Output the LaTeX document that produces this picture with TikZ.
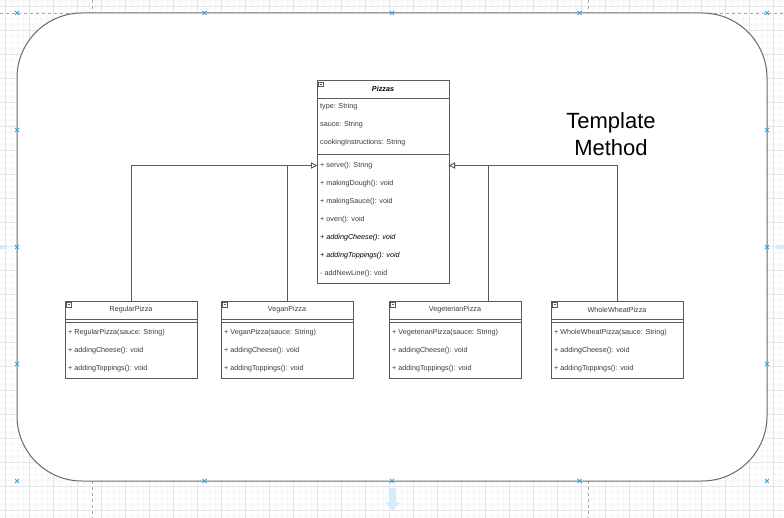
\documentclass[tikz,border=0pt]{standalone}
\usepackage{fontspec}
\setmainfont{Liberation Sans}
\usetikzlibrary{arrows.meta,calc}
\definecolor{gridmin}{HTML}{F6F6F6}
\definecolor{gridmaj}{HTML}{E4E4E4}
\definecolor{guide}{HTML}{A8A8A8}
\definecolor{frameline}{HTML}{6A6A6A}
\definecolor{boxline}{HTML}{5A5A5A}
\definecolor{txt}{HTML}{3A3A3A}
\definecolor{handle}{HTML}{2FA8E8}
\definecolor{hover}{HTML}{D6ECF8}
\tikzset{
  cls/.style={draw=boxline, line width=0.8pt, fill=white, inner sep=0pt, outer sep=0pt, anchor=north west},
  sepline/.style={draw=boxline, line width=0.8pt},
  hdr/.style={font=\fontsize{7.2}{8}\selectfont, text=txt, inner sep=0pt},
  row/.style={font=\fontsize{7.2}{8}\selectfont, text=txt, inner sep=0pt, anchor=west},
  abs/.style={font=\fontsize{7.2}{8}\selectfont\itshape, text=black, inner sep=0pt, anchor=west},
  inh/.style={draw=boxline, line width=0.8pt, -{Triangle[open, length=6pt, width=6pt, fill=white]}},
  clsicon/.style={draw=boxline, line width=0.6pt, fill=white},
  hmark/.style={draw=handle, line width=0.9pt},
}
\newcommand{\clsicon}[2]{%
  \draw[clsicon] (#1,#2) rectangle ++(4.5,4.5);
  \draw[boxline, line width=0.6pt] (#1+1,#2+2.25) -- ++(2.5,0);}
\newcommand{\subcls}[4]{%
  \node[cls, minimum width=132pt, minimum height=77pt] (#1) at (#2,301) {};
  \draw[sepline] (#2,319) -- ++(132,0);
  \draw[sepline] (#2,322) -- ++(132,0);
  \clsicon{#2+1.5}{302.5}
  \node[hdr] (#1-name) at (#2+66,310) {#3};
  \node[row] (#1-ctor) at (#2+3,333) {+ #4(sauce: String)};
  \node[row] (#1-cheese) at (#2+3,351) {+ addingCheese(): void};
  \node[row] (#1-top) at (#2+3,369) {+ addingToppings(): void};}
\newcommand{\hx}[2]{%
  \draw[hmark] (#1-2,#2-2) -- (#1+2,#2+2) (#1-2,#2+2) -- (#1+2,#2-2);}
\begin{document}
\begin{tikzpicture}[x=1pt, y=-1pt]
\useasboundingbox (0,0) rectangle (784,518);
% canvas grid
\foreach \x in {-1,5,...,784} \draw[gridmin, line width=0.5pt] (\x,0) -- (\x,518);
\foreach \y in {0,6,...,518} \draw[gridmin, line width=0.5pt] (0,\y) -- (784,\y);
\foreach \x in {5,29,...,784} \draw[gridmaj, line width=0.7pt] (\x,0) -- (\x,518);
\foreach \y in {6,30,...,518} \draw[gridmaj, line width=0.7pt] (0,\y) -- (784,\y);
% guides
\draw[guide, dashed, line width=0.6pt] (0,13) -- (784,13);
\draw[guide, dashed, line width=0.6pt] (92,0) -- (92,13) (92,481) -- (92,518);
\draw[guide, dashed, line width=0.6pt] (588,0) -- (588,13) (588,481) -- (588,518);
% hover arrows
\fill[hover] (389,488) -- (396,488) -- (396,502) -- (400,502) -- (392.5,511) -- (385,502) -- (389,502) -- cycle;
\fill[hover] (0,245.5) rectangle (7,249);
\fill[hover] (776,245.5) rectangle (784,249);
% frame
\node[draw=frameline, line width=1pt, fill=white, rounded corners=65pt, minimum width=750pt, minimum height=468pt, inner sep=0pt, outer sep=0pt, anchor=north west] (frame) at (17,13) {};
\foreach \x in {17,204.5,392,579.5,767} {\hx{\x}{13}\hx{\x}{481}}
\foreach \y in {130,247,364} {\hx{17}{\y}\hx{767}{\y}}
% title
\node[font=\fontsize{22}{27}\selectfont, align=center, inner sep=0pt, text=black] (title) at (611,134.5) {Template\\Method};
% Pizzas class
\node[cls, minimum width=132pt, minimum height=203pt] (pizzas) at (317,80) {};
\draw[sepline] (317,98) -- (449,98);
\draw[sepline] (317,154) -- (449,154);
\clsicon{318.5}{82}
\node[hdr, text=black] (pizzas-name) at (383,89) {\textbf{\textit{Pizzas}}};
\node[row] (a1) at (320,107) {type: String};
\node[row] (a2) at (320,125) {sauce: String};
\node[row] (a3) at (320,143) {cookingInstructions: String};
\node[row] (m1) at (320,165.5) {+ serve(): String};
\node[row] (m2) at (320,183.5) {+ makingDough(): void};
\node[row] (m3) at (320,201.5) {+ makingSauce(): void};
\node[row] (m4) at (320,219.5) {+ oven(): void};
\node[abs] (m5) at (320,237.5) {+ addingCheese(): void};
\node[abs] (m6) at (320,255.5) {+ addingToppings(): void};
\node[row] (m7) at (320,273.5) {- addNewLine(): void};
% subclasses
\subcls{regular}{65}{RegularPizza}{RegularPizza}
\subcls{vegan}{221}{VeganPizza}{VeganPizza}
\subcls{veget}{389}{VegeterianPizza}{VegeterianPizza}
\subcls{whole}{551}{WholeWheatPizza}{WholeWheatPizza}
% inheritance
\coordinate (pinl) at ($(pizzas.north west)+(0,85.5)$);
\coordinate (pinr) at ($(pizzas.north east)+(0,85.5)$);
\draw[inh] (regular.north) |- (pinl);
\draw[inh] (vegan.north) |- (pinl);
\draw[inh] ($(veget.north)+(33,0)$) |- (pinr);
\draw[inh] (whole.north) |- (pinr);
\end{tikzpicture}
\end{document}
